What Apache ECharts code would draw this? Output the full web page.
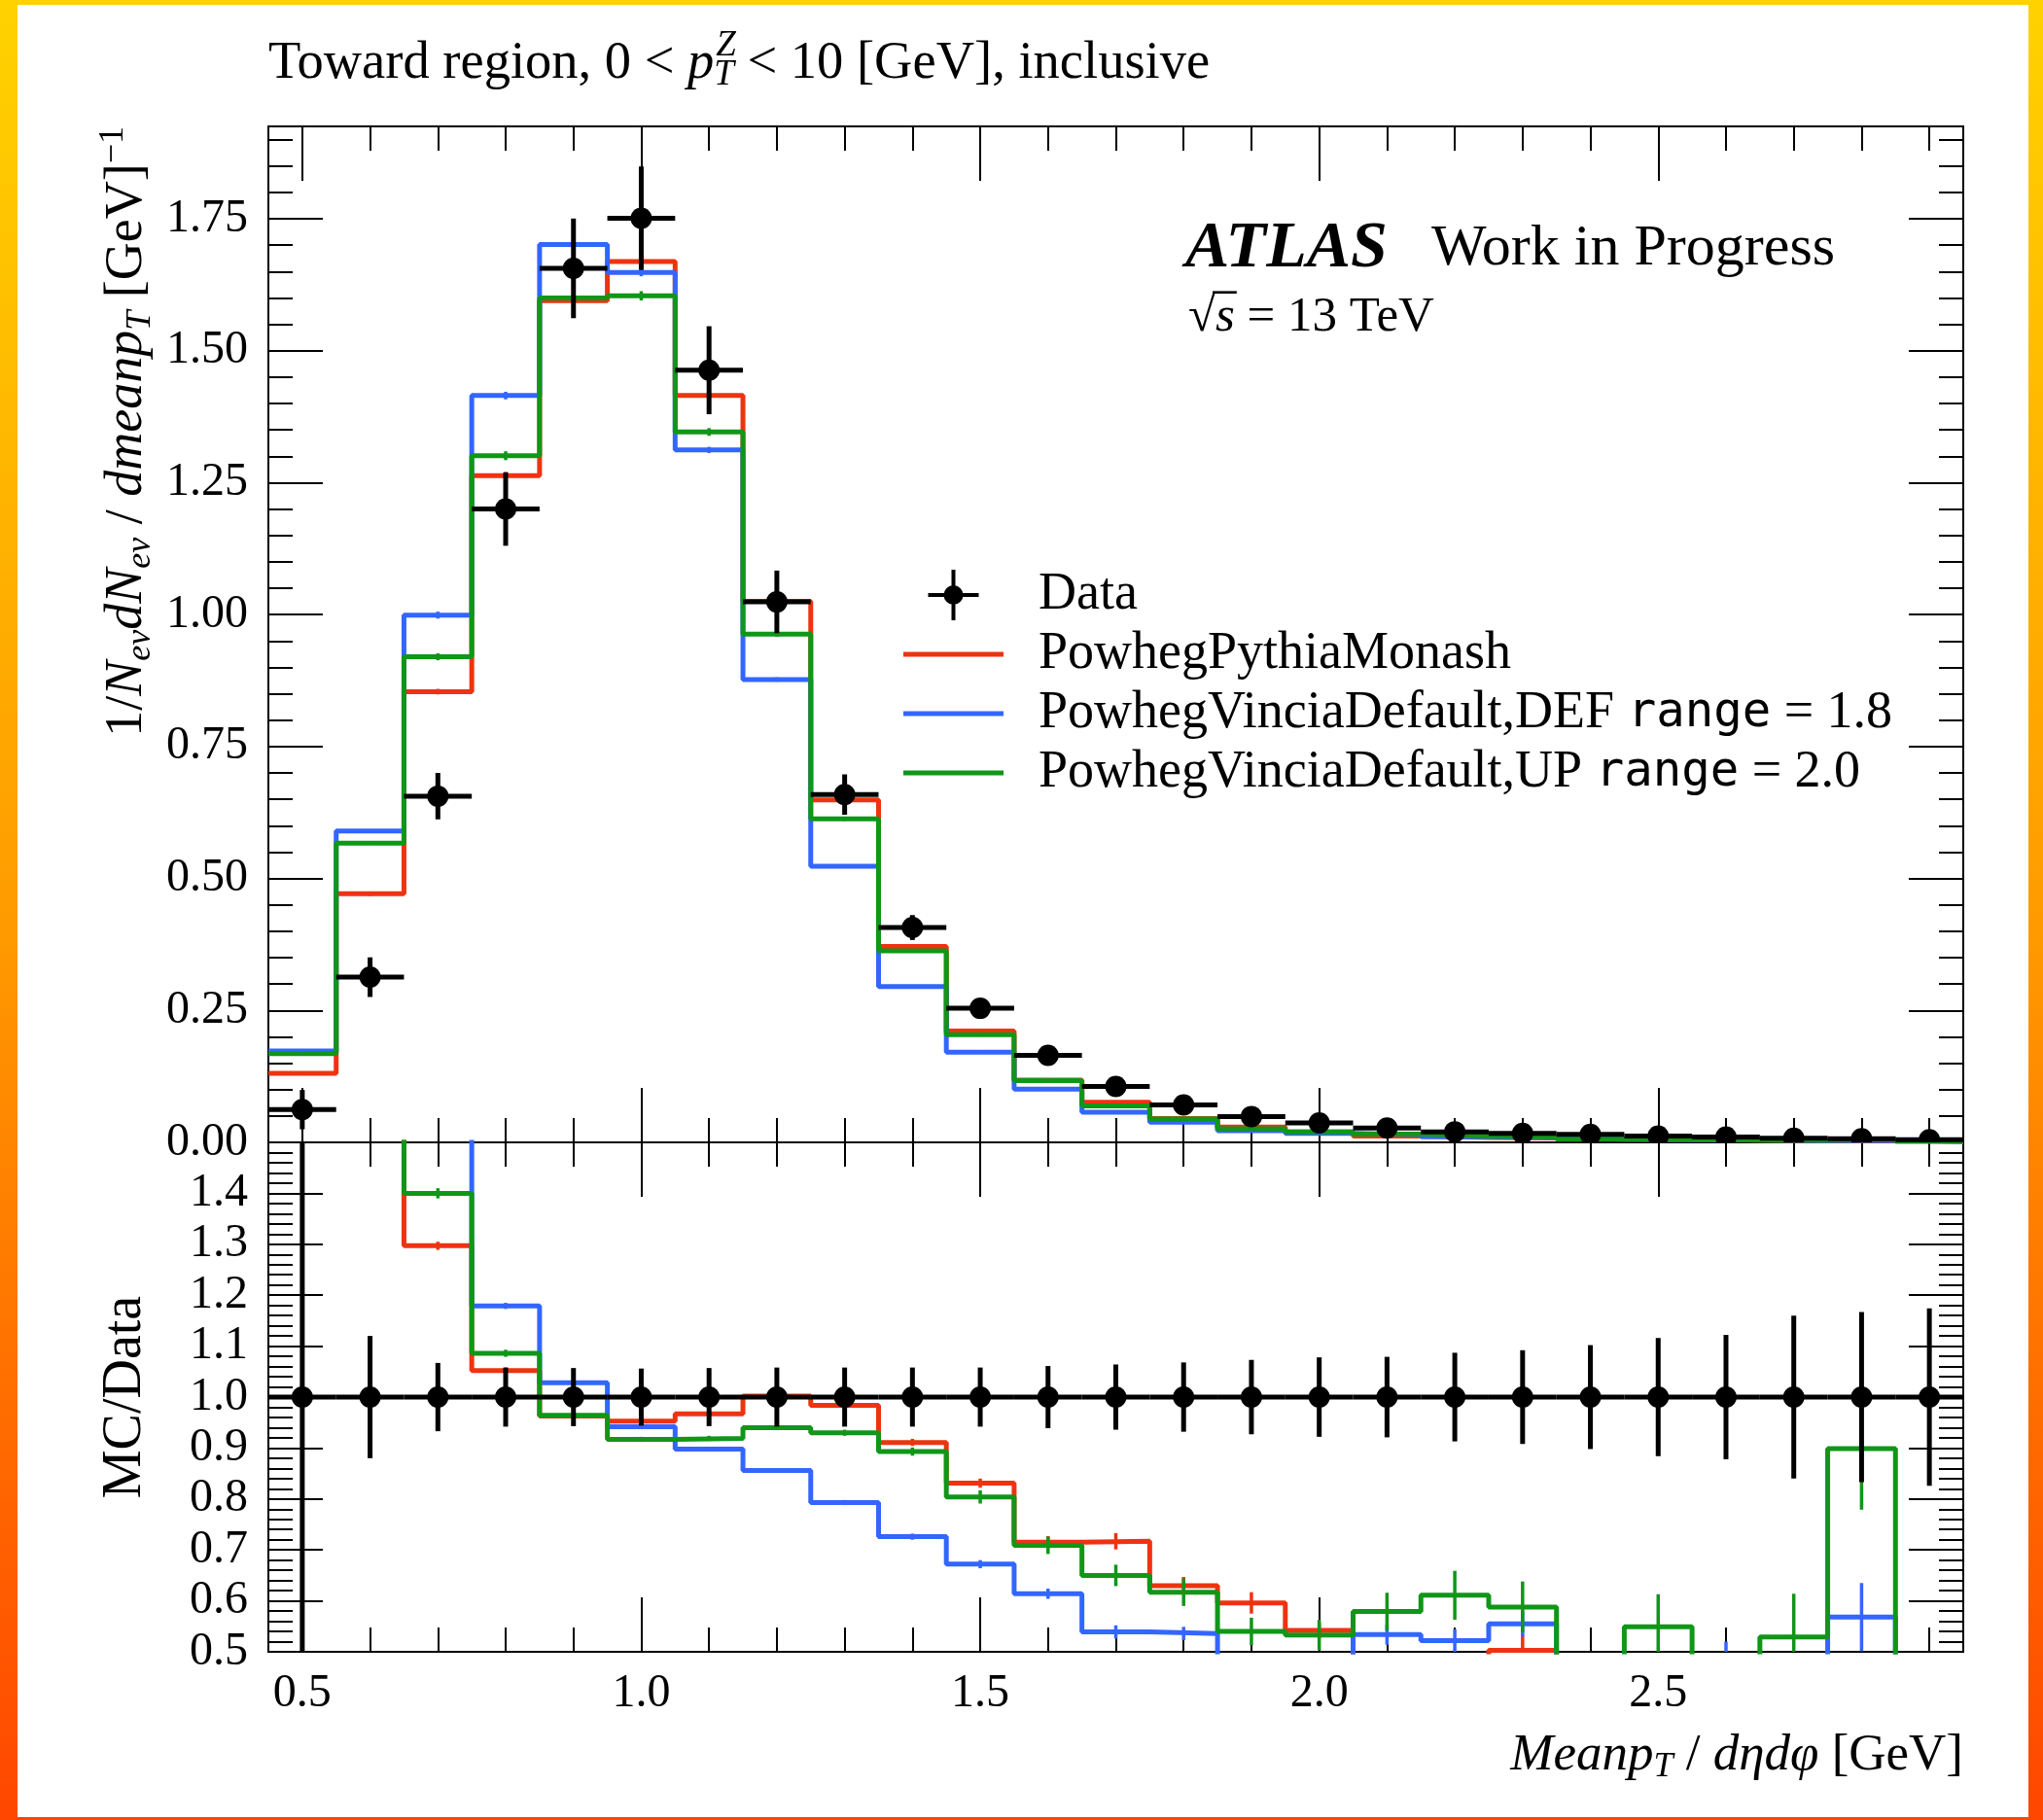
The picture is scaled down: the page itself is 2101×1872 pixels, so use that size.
<!DOCTYPE html>
<html>
<head>
<meta charset="utf-8">
<title>Toward region, mean pT</title>
<script src="https://cdn.jsdelivr.net/npm/echarts@6.0.0/dist/echarts.min.js"></script>
<style>
  html, body { margin:0; padding:0; width:2101px; height:1872px; overflow:hidden; background:#fff; }
  #frame { position:absolute; left:0; top:0; width:2101px; height:1872px;
           background: linear-gradient(to bottom, #FFD200 0%, #FF9C00 50%, #FF4600 100%); }
  #chart { position:absolute; left:18px; top:5px; width:2068px; height:1864px; background:#fff; }
</style>
</head>
<body>
<div id="frame"></div>
<div id="chart"></div>
<script>
// ---------------- data ----------------
const binEdges = [0.45,0.55,0.65,0.75,0.85,0.95,1.05,1.15,1.25,1.35,1.45,1.55,1.65,1.75,1.85,1.95,2.05,2.15,2.25,2.35,2.45,2.55,2.65,2.75,2.85,2.95];

const dataVals   = [0.062,0.313,0.656,1.200,1.656,1.751,1.463,1.024,0.659,0.407,0.254,0.165,0.106,0.071,0.049,0.037,0.027,0.020,0.017,0.015,0.012,0.010,0.008,0.007,0.005];
const dataRelErr = [0.60,0.12,0.067,0.058,0.057,0.056,0.057,0.058,0.058,0.058,0.058,0.061,0.064,0.068,0.073,0.078,0.079,0.087,0.092,0.102,0.116,0.122,0.160,0.167,0.174];

const monashVals    = [0.131,0.471,0.854,1.263,1.595,1.669,1.415,1.025,0.649,0.371,0.211,0.118,0.076,0.045,0.029,0.020,0.012,0.009,0.0085,0.006,0.005,0.004,0.003,0.003,0.002];
const vinciaDefVals = [0.173,0.590,0.999,1.415,1.701,1.648,1.312,0.877,0.523,0.295,0.171,0.101,0.057,0.038,0.022,0.017,0.0144,0.0104,0.0094,0.006,0.005,0.0045,0.003,0.004,0.002];
const vinciaUpVals  = [0.168,0.567,0.920,1.301,1.600,1.604,1.346,0.963,0.613,0.363,0.204,0.117,0.069,0.044,0.026,0.020,0.0156,0.012,0.010,0.006,0.0066,0.004,0.004,0.0063,0.002];

const monashRatio    = [2.11,1.515,1.297,1.052,0.963,0.953,0.967,1.002,0.984,0.911,0.831,0.715,0.717,0.630,0.596,0.542,0.46,0.45,0.503,0.42,0.41,0.40,0.38,0.43,0.40];
const vinciaDefRatio = [2.79,1.88,1.52,1.179,1.028,0.942,0.898,0.856,0.793,0.726,0.672,0.614,0.539,0.536,0.45,0.46,0.534,0.522,0.555,0.40,0.42,0.46,0.38,0.568,0.40];
const vinciaUpRatio  = [2.71,1.81,1.40,1.086,0.964,0.917,0.919,0.940,0.930,0.893,0.804,0.709,0.650,0.617,0.540,0.533,0.579,0.611,0.588,0.40,0.549,0.40,0.529,0.899,0.40];

const monashRatioErr    = [0.05,0.013,0.008,0.006,0.005,0.005,0.005,0.005,0.006,0.007,0.009,0.012,0.016,0.017,0.021,0.015,0.02,0.025,0.03,0.03,0.03,0.03,0.04,0.05,0.05];
const vinciaDefRatioErr = [0.05,0.01,0.01,0.006,0.005,0.004,0.004,0.004,0.005,0.006,0.008,0.010,0.013,0.013,0.015,0.017,0.02,0.022,0.025,0.03,0.03,0.06,0.04,0.067,0.05];
const vinciaUpRatioErr  = [0.05,0.01,0.01,0.007,0.006,0.005,0.005,0.005,0.006,0.008,0.013,0.017,0.021,0.027,0.027,0.030,0.037,0.048,0.05,0.05,0.064,0.05,0.085,0.12,0.05];

const xTickLabels      = [0.5,1.0,1.5,2.0,2.5];
const yMainTickLabels  = [0,0.25,0.5,0.75,1.0,1.25,1.5,1.75];
const yRatioTickLabels = [0.5,0.6,0.7,0.8,0.9,1.0,1.1,1.2,1.3,1.4];

const seriesNames = ['Data','PowhegPythiaMonash','PowhegVinciaDefault,DEF range = 1.8','PowhegVinciaDefault,UP range = 2.0'];
const seriesColors = ['#000000','#EE3311','#3366FF','#109618'];

// ---------------- layout ----------------
const OX = 18, OY = 5;               // chart div offset inside the coloured frame
const FL = 276 - OX, FR = 2019 - OX; // frame left/right
const FT = 130 - OY, FM = 1175 - OY, FB = 1699 - OY;
const FONT = 'Liberation Serif';
const MONO = 'DejaVu Sans Mono';
const MC_W = 5, DATA_W = 5, MARK_R = 11;

const centers = binEdges.slice(0, -1).map((e, i) => (e + binEdges[i + 1]) / 2);

function steps(a, b, step) {
  const out = [];
  for (let k = Math.round(a / step); k * step <= b + 1e-9; k++) out.push(+(k * step).toFixed(4));
  return out;
}
const xMinor = steps(0.5, 2.9, 0.1);
const yMainMinor = steps(0.05, 1.90, 0.05);
const yRatioMajorTicks = yRatioTickLabels.concat([1.5]);
const yRatioMinor = steps(0.52, 1.48, 0.02);

const tickLine = { color: '#000', width: 2 };
const labelBase = { fontFamily: FONT, fontSize: 48, color: '#000' };

function makeX(gridIndex, position, ticks, len, labels) {
  return {
    type: 'value', gridIndex, position, min: 0.45, max: 2.95,
    axisLine: { show: false, onZero: false },
    splitLine: { show: false },
    axisTick: { show: true, inside: true, length: len, customValues: ticks, lineStyle: tickLine },
    axisLabel: labels ? Object.assign({ show: true, customValues: labels, margin: 19,
      formatter: v => Number(v).toFixed(1) }, labelBase) : { show: false }
  };
}
function makeY(gridIndex, position, min, max, ticks, len, labels, digits) {
  return {
    type: 'value', gridIndex, position, min, max,
    axisLine: { show: false, onZero: false },
    splitLine: { show: false },
    axisTick: { show: true, inside: true, length: len, customValues: ticks, lineStyle: tickLine },
    axisLabel: labels ? Object.assign({ show: true, customValues: labels, margin: 21,
      formatter: v => Number(v).toFixed(digits) }, labelBase) : { show: false }
  };
}

const xAxis = [
  makeX(0, 'bottom', xTickLabels, 56, null),   // 0
  makeX(0, 'bottom', xMinor, 25, null),        // 1
  makeX(0, 'top', xTickLabels, 56, null),      // 2
  makeX(0, 'top', xMinor, 25, null),           // 3
  makeX(1, 'bottom', xTickLabels, 56, xTickLabels), // 4
  makeX(1, 'bottom', xMinor, 25, null),        // 5
  makeX(1, 'top', xTickLabels, 56, null),      // 6
  makeX(1, 'top', xMinor, 25, null)            // 7
];
const yAxis = [
  makeY(0, 'left', 0, 1.925, yMainTickLabels, 56, yMainTickLabels, 2), // 0
  makeY(0, 'left', 0, 1.925, yMainMinor, 25, null),                    // 1
  makeY(0, 'right', 0, 1.925, yMainTickLabels, 56, null),              // 2
  makeY(0, 'right', 0, 1.925, yMainMinor, 25, null),                   // 3
  makeY(1, 'left', 0.5, 1.5, yRatioMajorTicks, 56, yRatioTickLabels, 1), // 4
  makeY(1, 'left', 0.5, 1.5, yRatioMinor, 25, null),                   // 5
  makeY(1, 'right', 0.5, 1.5, yRatioMajorTicks, 56, null),             // 6
  makeY(1, 'right', 0.5, 1.5, yRatioMinor, 25, null)                   // 7
];

// ---------------- series ----------------
function stepData(vals) {
  const d = vals.map((v, i) => [binEdges[i], v]);
  d.push([binEdges[binEdges.length - 1], vals[vals.length - 1]]);
  return d;
}
function stepSeries(name, vals, color, xi, yi) {
  return { name, type: 'line', step: 'end', xAxisIndex: xi, yAxisIndex: yi,
    data: stepData(vals), symbol: 'none', showSymbol: false, clip: true, silent: true,
    lineStyle: { color, width: MC_W }, itemStyle: { color }, z: 3, animation: false };
}
function errSeries(name, vals, errs, color, xi, yi) {
  return { name, type: 'custom', xAxisIndex: xi, yAxisIndex: yi, clip: true, silent: true, z: 4,
    itemStyle: { color }, animation: false,
    data: vals.map((v, i) => [centers[i], v, errs[i]]), encode: { x: 0, y: 1 },
    renderItem: (params, api) => {
      const c = api.value(0), v = api.value(1), e = api.value(2);
      const a = api.coord([c, v - e]), b = api.coord([c, v + e]);
      return { type: 'line', shape: { x1: a[0], y1: a[1], x2: b[0], y2: b[1] },
               style: { stroke: color, lineWidth: 3.5 } };
    } };
}
function dataSeries(name, vals, errs, xi, yi) {
  return { name, type: 'custom', xAxisIndex: xi, yAxisIndex: yi, clip: true, silent: true, z: 6,
    itemStyle: { color: '#000' }, animation: false,
    data: vals.map((v, i) => [centers[i], v, errs[i], binEdges[i], binEdges[i + 1]]), encode: { x: 0, y: 1 },
    renderItem: (params, api) => {
      const c = api.value(0), v = api.value(1), e = api.value(2), lo = api.value(3), hi = api.value(4);
      const pc = api.coord([c, v]), pl = api.coord([lo, v]), ph = api.coord([hi, v]);
      const pd = api.coord([c, v - e]), pu = api.coord([c, v + e]);
      return { type: 'group', children: [
        { type: 'line', shape: { x1: pl[0], y1: pc[1], x2: ph[0], y2: pc[1] }, style: { stroke: '#000', lineWidth: DATA_W } },
        { type: 'line', shape: { x1: pc[0], y1: pd[1], x2: pc[0], y2: pu[1] }, style: { stroke: '#000', lineWidth: DATA_W } },
        { type: 'circle', shape: { cx: pc[0], cy: pc[1], r: MARK_R }, style: { fill: '#000' } }
      ] };
    } };
}

const mcMain  = [monashVals, vinciaDefVals, vinciaUpVals];
const mcRatio = [monashRatio, vinciaDefRatio, vinciaUpRatio];
const mcRErr  = [monashRatioErr, vinciaDefRatioErr, vinciaUpRatioErr];

const series = [];
for (let k = 0; k < 3; k++) {
  const nm = seriesNames[k + 1], col = seriesColors[k + 1];
  series.push(stepSeries(nm, mcMain[k], col, 0, 0));
  series.push(errSeries(nm + ' err', mcMain[k], mcRErr[k].map((e, i) => e * dataVals[i]), col, 0, 0));
  series.push(stepSeries(nm + ' ratio', mcRatio[k], col, 4, 4));
  series.push(errSeries(nm + ' ratio err', mcRatio[k], mcRErr[k], col, 4, 4));
}
series.push(dataSeries('Data', dataVals, dataVals.map((v, i) => v * dataRelErr[i]), 0, 0));
series.push(dataSeries('Data ratio', dataVals.map(() => 1), dataRelErr, 4, 4));

// ---------------- text helpers ----------------
const mctx = document.createElement('canvas').getContext('2d');
function measure(font, s) { mctx.font = font; return mctx.measureText(s).width; }

function richSet(size, lh, subSize) {
  return {
    n:   { fontFamily: FONT, fontSize: size, lineHeight: lh, fill: '#000' },
    i:   { fontFamily: FONT, fontSize: size, fontStyle: 'italic', lineHeight: lh, fill: '#000' },
    sub: { fontFamily: FONT, fontSize: subSize, fontStyle: 'italic', lineHeight: 34, verticalAlign: 'bottom', fill: '#000' },
    sup: { fontFamily: FONT, fontSize: subSize, lineHeight: 34, verticalAlign: 'top', fill: '#000' }
  };
}

const TITLE_FS = 54.5;
const titleX = 276 - OX, titleY = 66 - OY;
const zX = titleX + measure(TITLE_FS + 'px ' + FONT, 'Toward region, 0 < ') + measure('italic ' + TITLE_FS + 'px ' + FONT, 'p') + 2;

const SQ_FS = 51;
const sqX = 1222 - OX, sqY = 327 - OY;
mctx.font = SQ_FS + 'px ' + FONT; mctx.textBaseline = 'middle';
const radM = mctx.measureText('√');
const radTop = sqY - radM.actualBoundingBoxAscent;
const radW = radM.width;
const sW = measure('italic ' + SQ_FS + 'px ' + FONT, 's');

const graphic = [
  { type: 'text', x: titleX, y: titleY, style: {
      text: '{n|Toward region, 0 < }{i|p}{sub|T}{n| < 10 [GeV], inclusive}',
      align: 'left', verticalAlign: 'middle', rich: richSet(TITLE_FS, 60, 37) } },
  { type: 'text', x: zX, y: titleY - 19, style: {
      text: 'Z', fontFamily: FONT, fontSize: 37, fontStyle: 'italic', fill: '#000', align: 'left', verticalAlign: 'middle' } },
  { type: 'text', x: 131 - OX, y: 130 - OY, rotation: Math.PI / 2, style: {
      text: '{n|1/}{i|N}{sub|ev}{i|dN}{sub|ev}{n| / }{i|dmeanp}{sub|T}{n| [GeV]}{sup|−1}',
      align: 'right', verticalAlign: 'middle', rich: richSet(54, 64, 36) } },
  { type: 'text', x: 129 - OX, y: 1437 - OY, rotation: Math.PI / 2, style: {
      text: 'MC/Data', fontFamily: FONT, fontSize: 56, fill: '#000', align: 'center', verticalAlign: 'middle' } },
  { type: 'text', x: FR, y: 1806 - OY, style: {
      text: '{i|Meanp}{sub|T}{n| / }{i|dηdφ}{n| [GeV]}',
      align: 'right', verticalAlign: 'middle', rich: richSet(53, 60, 36) } },
  { type: 'text', x: 1219 - OX, y: 256 - OY, style: {
      text: 'ATLAS', fontFamily: FONT, fontSize: 68, fontWeight: 'bold', fontStyle: 'italic', fill: '#000',
      align: 'left', verticalAlign: 'middle' } },
  { type: 'text', x: 1472 - OX, y: 256 - OY, style: {
      text: 'Work in Progress', fontFamily: FONT, fontSize: 60, fill: '#000', align: 'left', verticalAlign: 'middle' } },
  { type: 'text', x: sqX, y: sqY, style: {
      text: '{n|√}{i|s}{n| = 13 TeV}', align: 'left', verticalAlign: 'middle',
      rich: { n: { fontFamily: FONT, fontSize: SQ_FS, fill: '#000' }, i: { fontFamily: FONT, fontSize: SQ_FS, fontStyle: 'italic', fill: '#000' } } } },
  { type: 'line', z: 10, shape: { x1: sqX + radW - 3, y1: radTop + 1.3, x2: sqX + radW + sW + 2, y2: radTop + 1.3 },
    style: { stroke: '#000', lineWidth: 2.6 } }
];

// ---------------- legend ----------------
const DATA_ICON = 'path://M24,0H28V24H52V28H28V52H24V28H0V24H24Z M36,26A10,10,0,1,1,16,26A10,10,0,1,1,36,26Z';
const LINE_ICON = 'path://M0,0H103V5H0Z';
function fmtLegend(name) {
  const idx = name.indexOf('range');
  if (idx < 0) return '{s|' + name + '}';
  return '{s|' + name.slice(0, idx) + '}{m|range}{s|' + name.slice(idx + 5) + '}';
}

const option = {
  animation: false,
  backgroundColor: '#ffffff',
  grid: [
    { left: FL, top: FT, width: FR - FL, height: FM - FT, show: true, borderColor: '#000', borderWidth: 2,
      backgroundColor: 'transparent', containLabel: false, outerBoundsMode: 'none' },
    { left: FL, top: FM, width: FR - FL, height: FB - FM, show: true, borderColor: '#000', borderWidth: 2,
      backgroundColor: 'transparent', containLabel: false, outerBoundsMode: 'none' }
  ],
  xAxis, yAxis, series, graphic,
  legend: {
    orient: 'vertical', left: 929 - OX, top: 585 - OY, padding: 0,
    itemWidth: 103, itemHeight: 52, itemGap: 7, selectedMode: false,
    data: [
      { name: seriesNames[0], icon: DATA_ICON, itemStyle: { color: seriesColors[0] } },
      { name: seriesNames[1], icon: LINE_ICON, itemStyle: { color: seriesColors[1] } },
      { name: seriesNames[2], icon: LINE_ICON, itemStyle: { color: seriesColors[2] } },
      { name: seriesNames[3], icon: LINE_ICON, itemStyle: { color: seriesColors[3] } }
    ],
    formatter: fmtLegend,
    textStyle: {
      fontFamily: FONT, fontSize: 53, color: '#000', lineHeight: 52, padding: [0, 0, 0, 31],
      rich: {
        s: { fontFamily: FONT, fontSize: 54, color: '#000', lineHeight: 52 },
        m: { fontFamily: MONO, fontSize: 49, color: '#000', lineHeight: 52 }
      }
    }
  }
};

const chart = echarts.init(document.getElementById('chart'), null, { renderer: 'canvas', devicePixelRatio: 1 });
chart.setOption(option);
</script>
</body>
</html>
